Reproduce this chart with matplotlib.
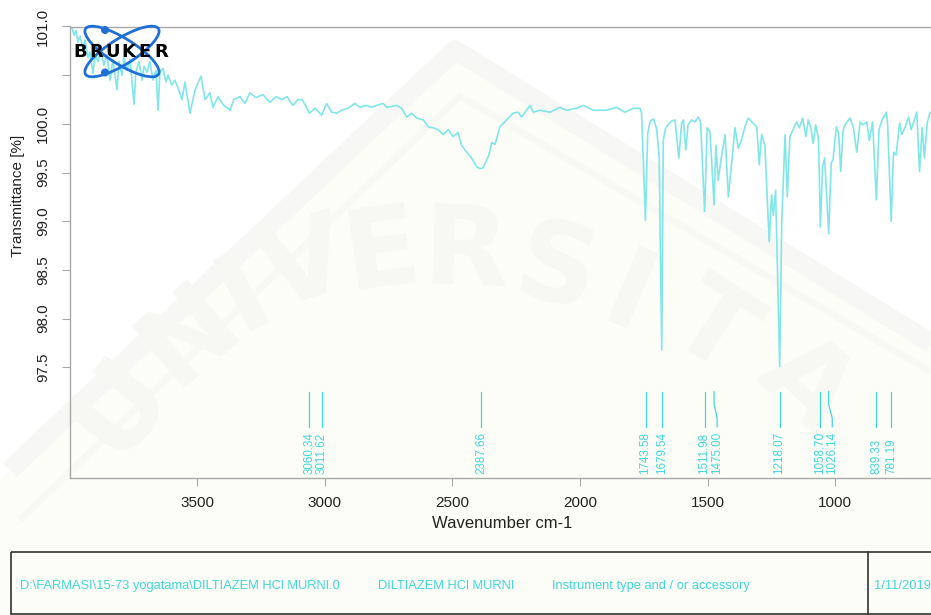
import matplotlib
matplotlib.use("Agg")
import matplotlib.pyplot as plt
from matplotlib.patches import Ellipse, Circle, Rectangle, Polygon

plt.rcParams['font.family'] = ['Liberation Sans', 'DejaVu Sans']

# ---------------- spectrum data ----------------
wavenumber = [
    3998, 3990, 3982, 3975, 3967, 3959, 3947, 3939, 3928, 3920, 3908, 3900, 3888, 3877,
    3865, 3853, 3841, 3830, 3814, 3806, 3794, 3787, 3775, 3763, 3747, 3740, 3728, 3716,
    3708, 3696, 3685, 3673, 3661, 3653, 3646, 3634, 3622, 3614, 3599, 3587, 3559, 3548,
    3528, 3508, 3485, 3469, 3450, 3438, 3418, 3399, 3371, 3356, 3332, 3313, 3293, 3270,
    3242, 3215, 3191, 3168, 3148, 3125, 3105, 3089, 3078, 3060, 3038, 3012, 2993, 2973,
    2953, 2934, 2909, 2882, 2862, 2836, 2816, 2797, 2772, 2756, 2738, 2718, 2699, 2679,
    2660, 2640, 2614, 2595, 2575, 2555, 2536, 2516, 2498, 2478, 2464, 2444, 2425, 2405,
    2392, 2379, 2366, 2357, 2346, 2333, 2314, 2288, 2262, 2243, 2229, 2196, 2183, 2157,
    2118, 2079, 2053, 2013, 1987, 1948, 1896, 1857, 1824, 1792, 1765, 1759, 1755, 1744,
    1735, 1725, 1712, 1700, 1690, 1680, 1674, 1665, 1656, 1641, 1628, 1613, 1602, 1595,
    1586, 1577, 1563, 1550, 1537, 1528, 1512, 1502, 1491, 1475, 1468, 1459, 1448, 1432,
    1419, 1407, 1393, 1380, 1368, 1354, 1341, 1327, 1308, 1298, 1289, 1276, 1259, 1250,
    1243, 1234, 1218, 1210, 1197, 1188, 1178, 1166, 1152, 1141, 1128, 1115, 1106, 1096,
    1087, 1077, 1066, 1058.7, 1050, 1042, 1026.1, 1016, 1009, 996, 987, 979, 970, 966,
    955, 942, 930, 916, 903, 893, 877, 867, 854, 839.3, 829, 817, 800, 795, 781.2, 772,
    762, 748, 740, 726, 713, 703, 681, 670, 660, 651, 640, 630, 615,
]
transmittance = [
    100.98, 100.99, 100.91, 100.96, 100.84, 100.90, 100.78, 100.86, 100.68, 100.74, 100.52, 100.71, 100.64, 100.76,
    100.60, 100.71, 100.45, 100.66, 100.35, 100.64, 100.50, 100.68, 100.55, 100.66, 100.20, 100.53, 100.64, 100.45,
    100.59, 100.53, 100.64, 100.45, 100.55, 100.14, 100.53, 100.57, 100.43, 100.50, 100.40, 100.45, 100.25, 100.43,
    100.11, 100.35, 100.49, 100.25, 100.32, 100.17, 100.28, 100.20, 100.14, 100.25, 100.28, 100.21, 100.32, 100.27,
    100.30, 100.22, 100.28, 100.25, 100.28, 100.19, 100.25, 100.25, 100.20, 100.11, 100.16, 100.09, 100.21, 100.12,
    100.11, 100.14, 100.16, 100.21, 100.17, 100.19, 100.17, 100.19, 100.21, 100.17, 100.18, 100.19, 100.16, 100.07,
    100.11, 100.06, 100.04, 99.97, 99.96, 99.94, 99.89, 99.94, 99.87, 99.91, 99.78, 99.71, 99.65, 99.56,
    99.54, 99.55, 99.63, 99.68, 99.81, 99.79, 99.97, 100.04, 100.11, 100.12, 100.07, 100.19, 100.12, 100.14,
    100.12, 100.17, 100.14, 100.16, 100.19, 100.14, 100.14, 100.17, 100.12, 100.16, 100.16, 100.11, 99.83, 99.01,
    99.90, 100.03, 100.05, 99.95, 99.66, 97.68, 99.83, 99.95, 99.99, 100.03, 100.04, 99.65, 100.01, 100.04,
    99.73, 99.99, 100.04, 100.02, 100.07, 100.02, 99.10, 99.96, 99.92, 99.17, 99.78, 99.42, 99.63, 99.89,
    99.25, 99.58, 99.96, 99.75, 99.83, 99.97, 100.06, 100.02, 99.97, 99.58, 99.89, 99.78, 98.79, 99.27,
    99.06, 99.32, 97.51, 98.98, 99.89, 99.25, 99.87, 99.94, 100.02, 99.96, 100.06, 99.87, 100.04, 99.96,
    99.80, 99.99, 99.85, 98.94, 99.56, 99.65, 98.87, 99.60, 99.63, 99.97, 99.90, 99.51, 99.92, 99.97,
    100.02, 100.06, 99.97, 99.71, 100.02, 99.99, 100.02, 99.83, 100.02, 99.22, 99.94, 100.04, 100.12, 99.99, 99.00, 99.71,
    99.68, 100.01, 99.89, 99.97, 100.07, 99.94, 100.12, 99.51, 99.96, 99.65, 100.01, 100.11, 100.14,
]

# picked peaks
peak_positions = [3060.34, 3011.62, 2387.66, 1743.58, 1679.54, 1511.98, 1475.00,
                  1218.07, 1058.70, 1026.14, 839.33, 781.19]
peak_labels = ["3060.34", "3011.62", "2387.66", "1743.58", "1679.54", "1511.98", "1475.00",
               "1218.07", "1058.70", "1026.14", "839.33", "781.19"]
# labels nudged sideways to avoid overlapping their neighbours
label_shift = {"1475.00": -12, "1026.14": -14}

x_ticks = [3500, 3000, 2500, 2000, 1500, 1000]
y_ticks = [97.5, 98.0, 98.5, 99.0, 99.5, 100.0, 100.5, 101.0]
y_tick_labels = ["97.5", "98.0", "98.5", "99.0", "99.5", "100.0", "", "101.0"]

file_path = r"D:\FARMASI\15-73 yogatama\DILTIAZEM HCl MURNI.0"
sample_name = "DILTIAZEM HCl MURNI"
instrument = "Instrument type and / or accessory"
meas_date = "1/11/2019"

W, H = 931, 615
CYAN_LINE = "#80e6e8"
CYAN_TEXT = "#3fd8d8"
GREY = "#a8a8a8"

fig = plt.figure(figsize=(W / 100, H / 100), dpi=100)
fig.patch.set_facecolor("white")


def pixel_layer(z):
    a = fig.add_axes([0, 0, 1, 1], zorder=z)
    a.set_xlim(0, W)
    a.set_ylim(H, 0)
    a.axis("off")
    a.patch.set_alpha(0)
    return a


# ---------------- faint university watermark ----------------
bg = pixel_layer(0)
bg.add_patch(Polygon([[0, 480], [455, 55], [W, 345], [W, H], [0, H]],
                     closed=True, facecolor="#fdfdf8", edgecolor="none"))
bg.plot([10, 455, W], [470, 50, 343], color="#f7f7f5", lw=14, solid_capstyle="butt")
bg.plot([20, 460, W], [520, 96, 372], color="#f8f8f5", lw=5, solid_capstyle="butt")
wm_letters = [("U", 120, 405, 52), ("N", 190, 335, 40), ("I", 245, 295, 28),
              ("V", 305, 268, 18), ("E", 382, 255, 8), ("R", 466, 255, -2),
              ("S", 556, 272, -13), ("I", 628, 300, -23), ("T", 712, 330, -33),
              ("A", 805, 385, -43)]
for ch, x, y, r in wm_letters:
    bg.text(x, y, ch, fontsize=80, fontweight="bold", color="#f7f7f3",
            ha="center", va="center", rotation=r, family="DejaVu Sans")

# ---------------- spectrum axes ----------------
ax = fig.add_axes([69.5 / W, (H - 478.4) / H, 919 / W, 451.9 / H], zorder=1)
ax.patch.set_alpha(0)
ax.plot(wavenumber, transmittance, color=CYAN_LINE, lw=1.2)
ax.set_xlim(4000, 400)
ax.set_ylim(96.36, 101.0)

for name in ("top", "left", "bottom", "right"):
    ax.spines[name].set_color(GREY)
    ax.spines[name].set_linewidth(1.0)

ax.set_xticks(x_ticks)
ax.set_xticklabels([str(t) for t in x_ticks])
ax.set_yticks(y_ticks)
ax.set_yticklabels(y_tick_labels, rotation=90, va="center")
ax.tick_params(axis="both", direction="out", length=5.8, width=0.8, color=GREY,
               labelsize=11, labelcolor="#222222")
ax.tick_params(axis="x", pad=7)
ax.tick_params(axis="y", pad=8)

# peak markers and labels
for pos, lab in zip(peak_positions, peak_labels):
    shift = label_shift.get(lab, 0)
    if shift:
        xs = [pos, pos, pos + shift, pos + shift]
        ys = [97.25, 97.12, 96.98, 96.89]
    else:
        xs = [pos, pos]
        ys = [97.25, 96.89]
    ax.plot(xs, ys, color=CYAN_TEXT, lw=0.9, clip_on=False)
    ax.text(pos + shift, 96.41, lab, rotation=90, ha="center", va="bottom",
            fontsize=8.4, color=CYAN_TEXT)

fig.text(502 / W, 1 - 524 / H, "Wavenumber cm-1", ha="center", va="center",
         fontsize=12, color="#222222")
fig.text(18 / W, 1 - 196 / H, "Transmittance [%]", ha="center", va="center",
         rotation=90, fontsize=11, color="#222222")

# ---------------- logo and information box ----------------
fg = pixel_layer(3)
logo_blue = "#1f6fd6"
fg.add_patch(Ellipse((122, 51.5), 86, 26, angle=32, fill=False, ec=logo_blue, lw=2.0))
fg.add_patch(Ellipse((122, 51.5), 86, 26, angle=-32, fill=False, ec=logo_blue, lw=2.0))
fg.add_patch(Circle((105, 30), 3.3, color=logo_blue))
fg.add_patch(Circle((105, 72.5), 3.3, color=logo_blue))
for i, ch in enumerate("BRUKER"):
    fg.text(80.0 + 16.2 * i, 52, ch, fontsize=13, fontweight="heavy",
            color="black", ha="center", va="center", family="DejaVu Sans")

fg.add_patch(Rectangle((10.7, 551.8), 960, 62.5, fill=False, ec="#333333", lw=1.2))
fg.plot([868, 868], [551.8, H], color="#333333", lw=1.2)
for x, s in [(19.5, file_path), (378, sample_name), (552, instrument), (874, meas_date)]:
    fg.text(x, 586, s, fontsize=9.3, color=CYAN_TEXT, ha="left", va="center")

fig.savefig("out.png", dpi=100)
